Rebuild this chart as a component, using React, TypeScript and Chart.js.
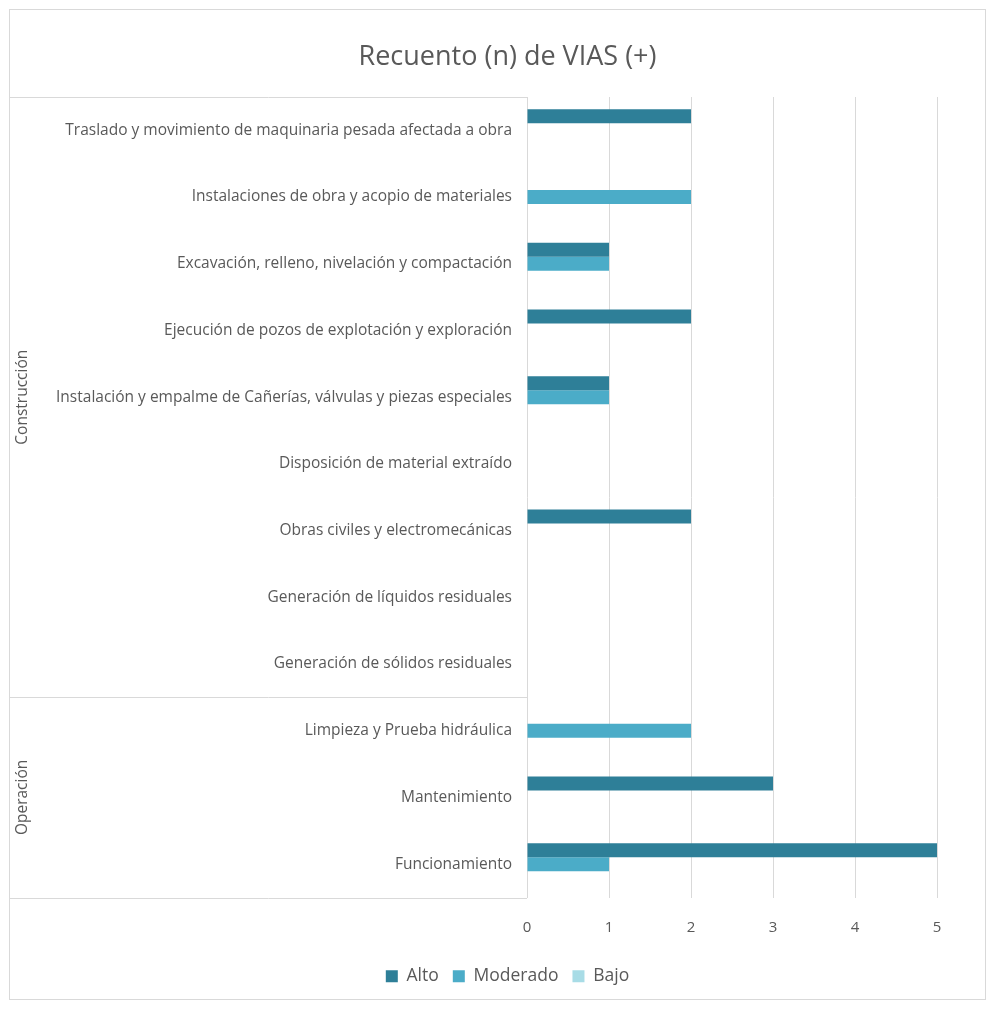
import React, { useEffect, useRef } from 'react';
import { Chart, registerables } from 'chart.js';
Chart.register(...registerables);

const categories = [
  'Traslado y movimiento de maquinaria pesada afectada a obra',
  'Instalaciones de obra y acopio de materiales',
  'Excavación, relleno, nivelación y compactación',
  'Ejecución de pozos de explotación y exploración',
  'Instalación y empalme de Cañerías, válvulas y piezas especiales',
  'Disposición de material extraído',
  'Obras civiles y electromecánicas',
  'Generación de líquidos residuales',
  'Generación de sólidos residuales',
  'Limpieza y Prueba hidráulica',
  'Mantenimiento',
  'Funcionamiento',
];
const groupNames = ['Construcción', 'Operación'];
const groupSizes = [9, 3];

const alto = [2, 0, 1, 2, 1, 0, 2, 0, 0, 0, 3, 5];
const moderado = [0, 2, 1, 0, 1, 0, 0, 0, 0, 2, 0, 1];
const bajo = [0, 0, 0, 0, 0, 0, 0, 0, 0, 0, 0, 0];
const seriesNames = ['Alto', 'Moderado', 'Bajo'];
const xTicks = [0, 1, 2, 3, 4, 5];

const FONT = "'Open Sans', 'DejaVu Sans', sans-serif";
const TEXT = '#595959';
const LINE = '#d9d9d9';

const framePlugin = {
  id: 'frame',
  beforeDraw(chart: any) {
    const { ctx, width, height } = chart;
    ctx.save();
    ctx.fillStyle = '#ffffff';
    ctx.fillRect(0, 0, width, height);
    ctx.strokeStyle = LINE;
    ctx.lineWidth = 1;
    ctx.strokeRect(9.5, 9.5, width - 19, height - 19);
    ctx.restore();
  },
  afterDraw(chart: any) {
    const { ctx, chartArea } = chart;
    const y = chart.scales.y;
    const left = 10;
    const right = chartArea.left;
    ctx.save();
    ctx.strokeStyle = LINE;
    ctx.lineWidth = 1;
    const bounds: number[] = [chartArea.top];
    let idx = 0;
    groupSizes.forEach((n) => {
      idx += n;
      if (idx < categories.length) {
        bounds.push((y.getPixelForTick(idx - 1) + y.getPixelForTick(idx)) / 2);
      } else {
        bounds.push(chartArea.bottom);
      }
    });
    bounds.forEach((b) => {
      const yy = Math.round(b) + 0.5;
      ctx.beginPath();
      ctx.moveTo(left, yy);
      ctx.lineTo(right, yy);
      ctx.stroke();
    });
    ctx.fillStyle = TEXT;
    ctx.font = `15.5px ${FONT}`;
    ctx.textAlign = 'center';
    ctx.textBaseline = 'middle';
    groupNames.forEach((name, gi) => {
      const cy = (bounds[gi] + bounds[gi + 1]) / 2;
      ctx.save();
      ctx.translate(23, cy);
      ctx.rotate(-Math.PI / 2);
      ctx.fillText(name, 0, 0);
      ctx.restore();
    });
    ctx.restore();
  },
};

export default function App() {
  const ref = useRef<HTMLCanvasElement>(null);
  useEffect(() => {
    document.body.style.margin = '0';
    document.body.style.overflow = 'hidden';
    const chart = new Chart(ref.current!, {
      type: 'bar',
      data: {
        labels: categories,
        datasets: [
          { label: seriesNames[0], data: alto, backgroundColor: '#2e7f98' },
          { label: seriesNames[1], data: moderado, backgroundColor: '#4bacc8' },
          { label: seriesNames[2], data: bajo, backgroundColor: '#a8dce6' },
        ],
      },
      options: {
        indexAxis: 'y',
        responsive: false,
        animation: false,
        maintainAspectRatio: false,
        layout: { padding: { top: 41, left: 30, right: 10, bottom: 14 } },
        datasets: { bar: { categoryPercentage: 0.63, barPercentage: 1.0 } },
        scales: {
          x: {
            min: 0,
            max: 5,
            afterBuildTicks: (scale: any) => {
              scale.ticks = xTicks.map((v) => ({ value: v }));
            },
            afterFit: (scale: any) => {
              scale.height = 56;
            },
            grid: { color: LINE, drawTicks: false },
            border: { display: false },
            ticks: { color: TEXT, font: { family: FONT, size: 15 }, padding: 21 },
          },
          y: {
            afterFit: (scale: any) => {
              scale.width = 497;
            },
            grid: { display: false, drawTicks: false },
            border: { display: false },
            ticks: { color: TEXT, font: { family: FONT, size: 15.5 }, padding: 15, autoSkip: false },
          },
          yRight: {
            type: 'category',
            position: 'right',
            afterFit: (scale: any) => {
              scale.width = 48;
            },
            grid: { display: false, drawTicks: false },
            border: { display: false },
            ticks: { display: false },
          },
        },
        plugins: {
          title: {
            display: true,
            text: 'Recuento (n) de VIAS (+)',
            color: TEXT,
            font: { family: FONT, size: 27, weight: 'normal' },
            padding: { top: 0, bottom: 23.6 },
          },
          legend: {
            position: 'bottom',
            labels: {
              color: TEXT,
              font: { family: FONT, size: 17.5 },
              boxWidth: 12,
              boxHeight: 12,
              padding: 14,
            },
          },
          tooltip: { enabled: false },
        },
      },
      plugins: [framePlugin],
    });
    return () => chart.destroy();
  }, []);
  return (
    <div style={{ width: 995, height: 1009 }}>
      <canvas ref={ref} width={995} height={1009} style={{ display: 'block' }} />
    </div>
  );
}
